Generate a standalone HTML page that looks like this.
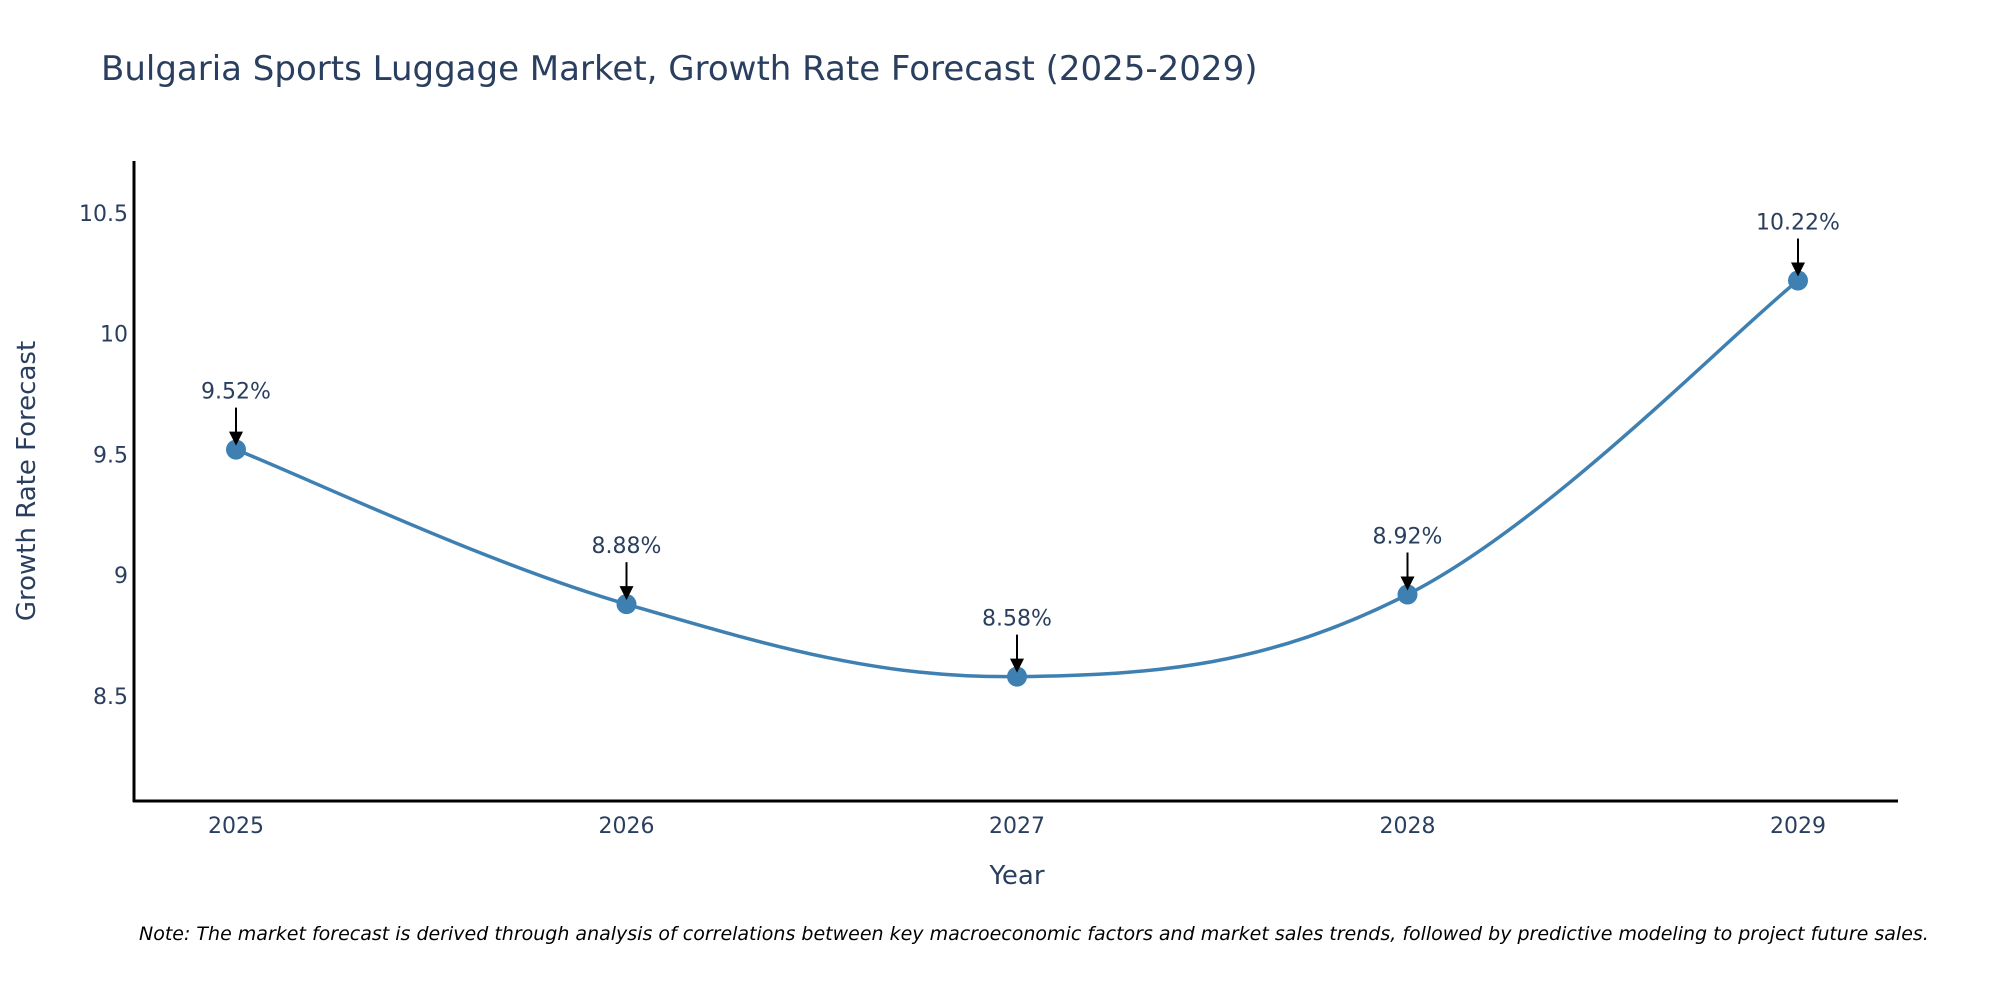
<!DOCTYPE html>
<html><head><meta charset="utf-8"><style>
html,body{margin:0;padding:0;background:#fff;overflow:hidden;}
svg{display:block;font-family:"DejaVu Sans","Liberation Sans",sans-serif;}
</style></head><body>
<svg id="chart" width="2000" height="1000" viewBox="0 0 2000 1000">
<text x="101" y="80" font-size="34" fill="#2a3f5f">Bulgaria Sports Luggage Market, Growth Rate Forecast (2025-2029)</text>
<g id="yticks"></g>
<g id="xticks"></g>
<path id="line" fill="none" stroke="#3f80b2" stroke-width="3.5"/>
<g id="marks"></g>
<g id="annos"></g>
<line x1="134" y1="161" x2="134" y2="802" stroke="#000" stroke-width="3"/>
<line x1="133" y1="801" x2="1898" y2="801" stroke="#000" stroke-width="3"/>
<text x="1017" y="884" font-size="26" fill="#2a3f5f" text-anchor="middle">Year</text>
<text transform="translate(35,481) rotate(-90)" font-size="26" fill="#2a3f5f" text-anchor="middle">Growth Rate Forecast</text>
<text x="139" y="940" font-size="19" font-style="italic" fill="#000">Note: The market forecast is derived through analysis of correlations between key macroeconomic factors and market sales trends, followed by predictive modeling to project future sales.</text>
</svg>
<script>
const years = [2025, 2026, 2027, 2028, 2029];
const values = [9.52, 8.88, 8.58, 8.92, 10.22];
const labels = ["9.52%", "8.88%", "8.58%", "8.92%", "10.22%"];
const yTicks = [8.5, 9, 9.5, 10, 10.5];
const yTickLabels = ["8.5", "9", "9.5", "10", "10.5"];

const NS = "http://www.w3.org/2000/svg";
const yMin = 8.065, yMax = 10.715, pTop = 161, pBot = 801;
const xScale = y => 236 + (y - 2025) * (1798 - 236) / 4;
const yScale = v => pBot - (v - yMin) / (yMax - yMin) * (pBot - pTop);
function mk(tag, attrs, parent) {
  const e = document.createElementNS(NS, tag);
  for (const k in attrs) e.setAttribute(k, attrs[k]);
  parent.appendChild(e);
  return e;
}
const yt = document.getElementById('yticks');
yTicks.forEach((v, i) => {
  const t = mk('text', {x: 128, y: yScale(v) + 8, 'font-size': 22, fill: '#2a3f5f', 'text-anchor': 'end'}, yt);
  
  
  t.textContent = yTickLabels[i];
});
const xt = document.getElementById('xticks');
years.forEach(y => {
  const t = mk('text', {x: xScale(y), y: 833, 'font-size': 22, fill: '#2a3f5f', 'text-anchor': 'middle'}, xt);
  
  
  t.textContent = String(y);
});
const pts = years.map((y, i) => [xScale(y), yScale(values[i])]);
let d = `M${pts[0][0]},${pts[0][1]}`;
const s = 0.18;
for (let i = 0; i < pts.length - 1; i++) {
  const p0 = pts[Math.max(0, i - 1)], p1 = pts[i], p2 = pts[i + 1], p3 = pts[Math.min(pts.length - 1, i + 2)];
  const c1 = [p1[0] + (p2[0] - p0[0]) * s, p1[1] + (p2[1] - p0[1]) * s];
  const c2 = [p2[0] - (p3[0] - p1[0]) * s, p2[1] - (p3[1] - p1[1]) * s];
  d += ` C${c1[0]},${c1[1]} ${c2[0]},${c2[1]} ${p2[0]},${p2[1]}`;
}
document.getElementById('line').setAttribute('d', d);
const mg = document.getElementById('marks');
const ag = document.getElementById('annos');
pts.forEach((p, i) => {
  const c = mk('circle', {cx: p[0], cy: p[1], r: 10, fill: '#3f80b2'}, mg);
  
  
  const l = mk('line', {x1: p[0], y1: p[1] - 42, x2: p[0], y2: p[1] - 16, stroke: '#000', 'stroke-width': 2}, ag);
  
  
  const h = mk('polygon', {points: `${p[0]-7},${p[1]-18} ${p[0]+7},${p[1]-18} ${p[0]},${p[1]-4}`, fill: '#000'}, ag);
  
  
  const t = mk('text', {x: p[0], y: p[1] - 51, 'font-size': 22, fill: '#2a3f5f', 'text-anchor': 'middle'}, ag);
  
  
  t.textContent = labels[i];
});
</script>
</body></html>
